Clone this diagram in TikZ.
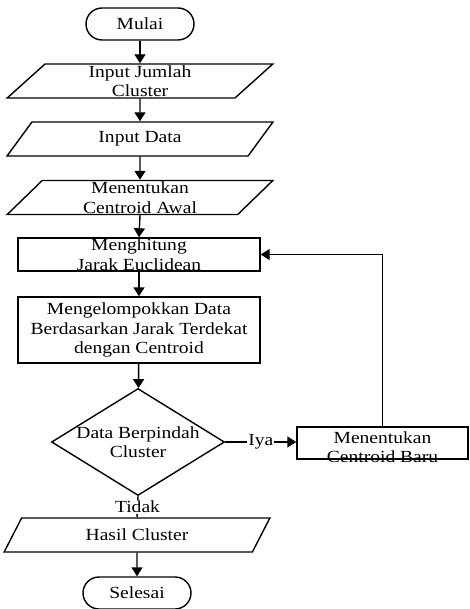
\documentclass[tikz,border=0pt]{standalone}
\usepackage{fontspec}
\setmainfont{Liberation Serif}[FakeStretch=1.15]
\usetikzlibrary{arrows.meta,shapes.geometric,positioning}

\tikzset{
  base/.style={draw,line width=1.4pt,inner sep=0pt,align=center},
  terminal/.style={base,rectangle,rounded corners=16pt,minimum width=108pt,minimum height=32pt},
  io/.style={base,trapezium,trapezium left angle=57,trapezium right angle=123,
    trapezium stretches,minimum width=266pt,minimum height=34pt},
  process/.style={base,rectangle,minimum width=242pt,minimum height=33pt},
  decision/.style={base,diamond,minimum width=173pt,minimum height=107pt},
  txt/.style={align=center,inner sep=0pt},
  arrow/.style={line width=1.4pt,-{Triangle[length=9pt,width=11pt]}},
}

\begin{document}
\begin{tikzpicture}[x=1pt,y=-1pt,font=\fontsize{17}{19.5}\selectfont]
  \useasboundingbox (0,0) rectangle (469,609);
  % main column
  \node[terminal] (mulai) at (140,24) {Mulai};
  \node[io] (jumlah) at (140,81) {Input Jumlah\\Cluster};
  \node[io] (data) at (140,139) {Input Data};
  \node[io] (awal) at (140,197.5) {Menentukan\\Centroid Awal};
  \node[process] (hitung) at (139,254.5) {Menghitung\\Jarak Euclidean};
  \node[process,minimum height=66pt] (kelompok) at (139,330) {Mengelompokkan Data\\Berdasarkan Jarak Terdekat\\dengan Centroid};
  \node[decision] (cek) at (138,442) {};
  \node[txt] (cektxt) at (cek) {Data Berpindah\\Cluster};
  \node[process,minimum width=171pt,minimum height=32pt] (baru) at (382.5,443) {};
  \node[txt] (barutxt) at ([yshift=-4pt]baru.center) {Menentukan\\Centroid Baru};
  \node[io] (hasil) at (137,535) {Hasil Cluster};
  \node[terminal] (selesai) at (137,593) {Selesai};

  \draw[arrow] (mulai) -- (jumlah);
  \draw[arrow] (jumlah) -- (data);
  \draw[arrow] (data) -- (awal);
  \draw[arrow] (awal.south) -- (hitung.north);
  \draw[arrow] (hitung) -- (kelompok);
  \draw[arrow] (kelompok) -- (cek);
  \draw[arrow] (cek.east) -- node[fill=white,inner sep=1pt] {Iya} (baru.west |- cek.east);
  \draw[arrow] (baru.north) |- (hitung.east);
  \draw[line width=1.4pt] (cek.south) -- node[fill=white,inner sep=1pt] {Tidak} (hasil.north);
  \draw[arrow] (hasil) -- (selesai);
\end{tikzpicture}
\end{document}
